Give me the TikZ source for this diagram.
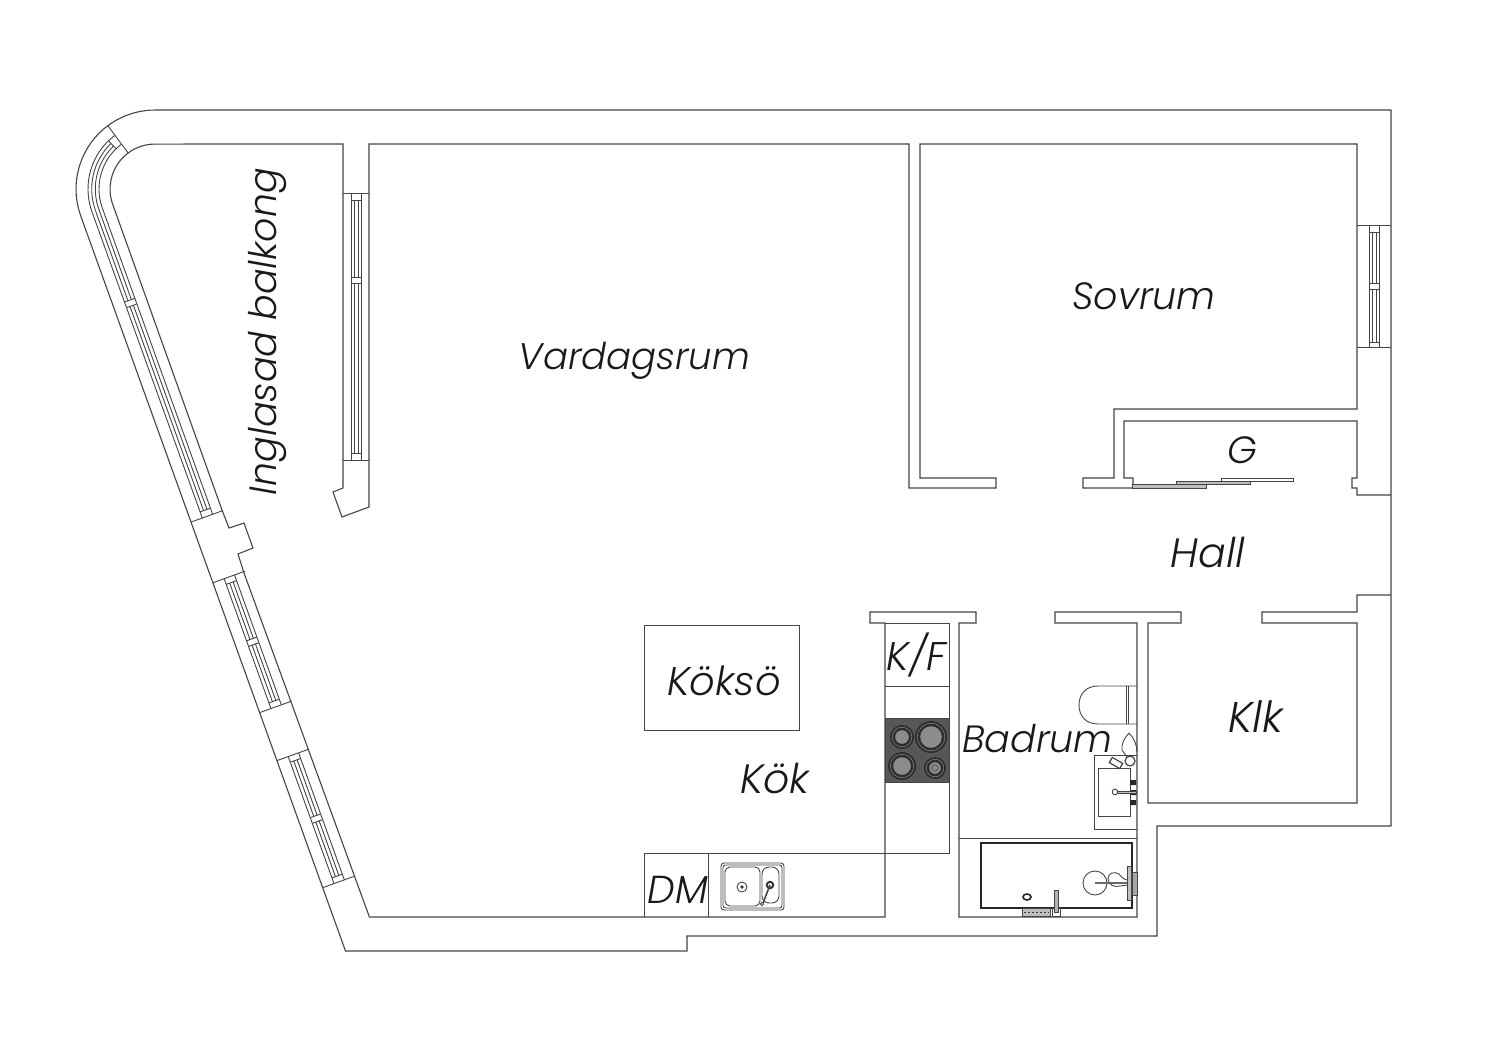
\documentclass[tikz,border=0pt]{standalone}
\usepackage{fontspec}
\setmainfont{Poppins}[UprightFont=* Light,ItalicFont=* Light Italic]
\definecolor{wallc}{HTML}{444444}
\definecolor{hobc}{HTML}{575757}
\definecolor{burnc}{HTML}{8C8C8C}
\tikzset{
  wall/.style={draw=wallc,line width=1.1pt,line join=miter},
  fix/.style={draw=wallc,line width=0.9pt},
  heavy/.style={draw=black!85,line width=2.2pt},
  lab/.style={font=\fontsize{#1}{#1}\selectfont\itshape,text=black!90,inner sep=0pt},
  lab/.default=37
}
\newcommand{\wrail}[3]{%
  \draw[fix] (#1,56) -- (#2,56) (#1,67) -- (#2,67);
  \draw[fix] (#1+6,56) -- (#1+6,67) (#2-6,56) -- (#2-6,67);
  \draw[fix] (#3-3,56) -- (#3-3,67) (#3+3,56) -- (#3+3,67);
  \draw[fix] (#1+6,59.7) -- (#3-3,59.7) (#1+6,63.3) -- (#3-3,63.3);
  \draw[fix] (#3+3,59.7) -- (#2-6,59.7) (#3+3,63.3) -- (#2-6,63.3);
}
\begin{document}
\begin{tikzpicture}[x=1pt,y=-1pt]
\useasboundingbox (0,0) rectangle (1500,1060);
% walls
\draw[wall] (1391,595) -- (1357,595) -- (1357,612) -- (1262,612) -- (1262,623) -- (1357,623) -- (1357,803) -- (1148,803) -- (1148,623) -- (1181,623) -- (1181,612) -- (1055,612) -- (1055,623) -- (1137,623) -- (1137,917) -- (959,917) -- (959,623) -- (976,623) -- (976,612) -- (870,612) -- (870,623) -- (885,623) -- (885,917) -- (369.4,917) -- (244,573) -- (238,554) -- (253,548) -- (244,523) -- (229,528) -- (222,510) -- (112.7,204.3) arc[start angle=160.2,end angle=270,radius=45] -- (343,144) -- (343,488) -- (333,492) -- (342,517) -- (369,507) -- (369,144) -- (909,144) -- (909,488) -- (996,488) -- (996,478) -- (920,478) -- (920,144) -- (1357,144) -- (1357,409) -- (1114,409) -- (1114,478) -- (1083,478) -- (1083,488) -- (1133,488) -- (1133,478) -- (1124,478) -- (1124,421) -- (1357,421) -- (1357,478) -- (1352,478) -- (1352,488) -- (1357,488) -- (1357,495) -- (1391,495);
\draw[wall] (155,110) -- (1391,110) -- (1391,826) -- (1157,826) -- (1157,936) -- (687,936) -- (687,951) -- (345.5,951) -- (80.7,215.8) arc[start angle=160.2,end angle=270,radius=79];
% kitchen
\draw[fix] (885,623) -- (949,623) -- (949,853) -- (644,853) -- (644,917);
\draw[fix] (708,853) -- (708,917);
\draw[fix] (885,686) -- (949,686);
\draw[fix] (644,625) rectangle (799,730);
\node[rectangle,fill=hobc,draw=wallc,minimum width=64pt,minimum height=64pt,inner sep=0pt] (hob) at (917,750) {};
\foreach \n/\cx/\cy/\r in {a/902/737/12,b/931/737/16,c/902/766/14,d/935/768/11}{
  \fill[black!82] (\cx,\cy) circle[radius=\r];
  \draw[black!45,line width=0.5pt] (\cx,\cy) circle[radius=\r-2.2];
  \fill[burnc] (\cx,\cy) circle[radius=\r-5.2];
}
\draw[black!70,line width=0.6pt] (935,768) circle[radius=3.2];
% kitchen sink
\draw[fix,rounded corners=3pt] (721,863) rectangle (784,910);
\draw[fix,rounded corners=2.5pt] (723,865) rectangle (782,908);
\draw[fix,rounded corners=5pt] (725,867) rectangle (760,906);
\draw[fix,rounded corners=7pt] (762,867) rectangle (779,903);
\draw[fix] (742,887) circle[radius=5];
\fill[black!80] (742,887) circle[radius=1.8];
\draw[black!80,line width=2pt] (770,885) circle[radius=3.2];
\draw[fix,line width=1.6pt] (770,885) -- (763,903);
\draw[fix,fill=white] (762,904) circle[radius=1.8];
% bathroom
\draw[fix] (959,838) -- (1137,838);
\draw[heavy] (981,843) rectangle (1132,908);
\draw[fix] (1095,883) circle[radius=12];
\draw[fix] (1128,885) -- (1120,886) .. controls (1114,888) and (1108,884) .. (1108,879) .. controls (1108,873) and (1114,871) .. (1119,874) .. controls (1122,878) and (1125,880) .. (1128,880);
\draw[draw=wallc!80,line width=2.2pt] (1095,883) -- (1132,883);
\draw[fix,fill=black!25] (1127,866) rectangle (1131,900);
\draw[fix,fill=black!35] (1132,872) rectangle (1137,895);
\draw[black!85,line width=1.6pt] (1027,897) ellipse[x radius=4,y radius=3];
\draw[fix,fill=black!25] (1022,908) rectangle (1050,916);
\draw[black!80,line width=1pt,dash pattern=on 2pt off 2pt] (1024,912) -- (1049,912);
\draw[fix,fill=white] (1052,908) rectangle (1060,916);
\draw[fix,fill=black!30] (1054,890) rectangle (1058,912);
% WC
\draw[fix] (1137,686) -- (1098,686) .. controls (1086,686) and (1079,694) .. (1079,705) .. controls (1079,716) and (1086,724) .. (1098,724) -- (1137,724);
\draw[fix] (1126,686) -- (1126,724) (1128,686) -- (1128,724);
\draw[fix] (1129,733) .. controls (1124,738) and (1121,745) .. (1122,750) -- (1127,757) (1129,733) .. controls (1134,738) and (1137,745) .. (1137,752);
% wash basin
\draw[fix] (1137,755) -- (1094,755) -- (1094,829) -- (1137,829);
\draw[fix] (1098,768) rectangle (1130,816);
\draw[fix,fill=white,line width=1.2pt] (1130,761) circle[radius=5];
\draw[fix,fill=white,line width=1.2pt,rotate around={-30:(1116,763)}] (1110,760) rectangle (1122,766);
\fill[black!85] (1130,780) rectangle (1136,785) (1130,790) rectangle (1136,795) (1130,800) rectangle (1136,805);
\draw[fix,fill=black!25] (1117,791) rectangle (1136,793);
\draw[fix,fill=white] (1115,792) circle[radius=2.8];
% sliding doors
\draw[fix,fill=black!25] (1132,484.5) rectangle (1206,488);
\draw[fix,fill=black!25] (1176,481) rectangle (1250,484.5);
\draw[fix,fill=white] (1221,478) rectangle (1293,481);
% windows: living room
\draw[fix] (343,193) -- (369,193) (343,460) -- (369,460);
\draw[fix] (351,193) -- (351,460) (361,193) -- (361,460);
\draw[fix] (351,200) -- (361,200) (351,277) -- (361,277) (351,283) -- (361,283) (351,453) -- (361,453);
\draw[fix] (354,200) -- (354,277) (358,200) -- (358,277) (354,283) -- (354,453) (358,283) -- (358,453);
% window: bedroom
\draw[fix] (1357,225) -- (1391,225) (1357,347) -- (1391,347);
\draw[fix] (1369,225) -- (1369,347) (1379,225) -- (1379,347);
\draw[fix] (1369,232) -- (1379,232) (1369,283) -- (1379,283) (1369,289) -- (1379,289) (1369,342) -- (1379,342);
\draw[fix] (1372,232) -- (1372,283) (1376,232) -- (1376,283) (1372,289) -- (1372,342) (1376,289) -- (1376,342);
% curved window
\draw[fix] (155,189) ++(233.3:45) -- ++(233.3:34);
\foreach \r in {56,67}{\draw[fix] (155,189) ++(233:\r) arc[start angle=233,end angle=160.2,radius=\r];}
\foreach \r in {59.7,63.3}{\draw[fix] (155,189) ++(226:\r) arc[start angle=226,end angle=160.2,radius=\r];}
\draw[fix] (155,189) ++(226:56) -- ++(226:11);
% balcony walls and windows in the slanted frame
\begin{scope}[shift={(155,189)},x={(0.339pt,-0.941pt)},y={(-0.941pt,-0.339pt)}]
  \draw[fix] (0,56) -- (326,56) (0,67) -- (326,67);
  \draw[fix] (0,59.7) -- (96,59.7) (0,63.3) -- (96,63.3) (102,59.7) -- (319,59.7) (102,63.3) -- (319,63.3);
  \draw[fix] (96,56) -- (96,67) (102,56) -- (102,67) (319,56) -- (319,67);
  \draw[fix] (325.5,45) -- (325.5,79);
  \draw[fix] (390,45) -- (390,79);
  \draw[fix] (528,45) -- (528,79);
  \draw[fix] (579,45) -- (579,79);
  \draw[fix] (714,45) -- (714,79);
  \wrail{390}{528}{459}
  \wrail{579}{714}{647}
\end{scope}
% labels
\node[lab,anchor=base] (vardagsrum) at (634.5,369) {Vardagsrum};
\node[lab=38,anchor=base] (sovrum) at (1144,309) {Sovrum};
\node[lab=41,anchor=base] (hall) at (1208,567) {Hall};
\node[lab=38,anchor=base] (g) at (1242,463) {G};
\node[lab=40,anchor=base] (koksoe) at (724,695) {Köksö};
\node[lab=41,anchor=base] (kok) at (775,793) {Kök};
\node[lab=40,anchor=base] (kf) at (916.5,670) {K/F};
\node[lab=38,anchor=base] (badrum) at (1037.5,752) {Badrum};
\node[lab=43,anchor=base] (klk) at (1255.5,732) {Klk};
\node[lab=39,anchor=base] (dm) at (678,903) {DM};
\node[lab=38,anchor=base,rotate=90] (balkong) at (276,331.5) {Inglasad balkong};
\end{tikzpicture}
\end{document}
